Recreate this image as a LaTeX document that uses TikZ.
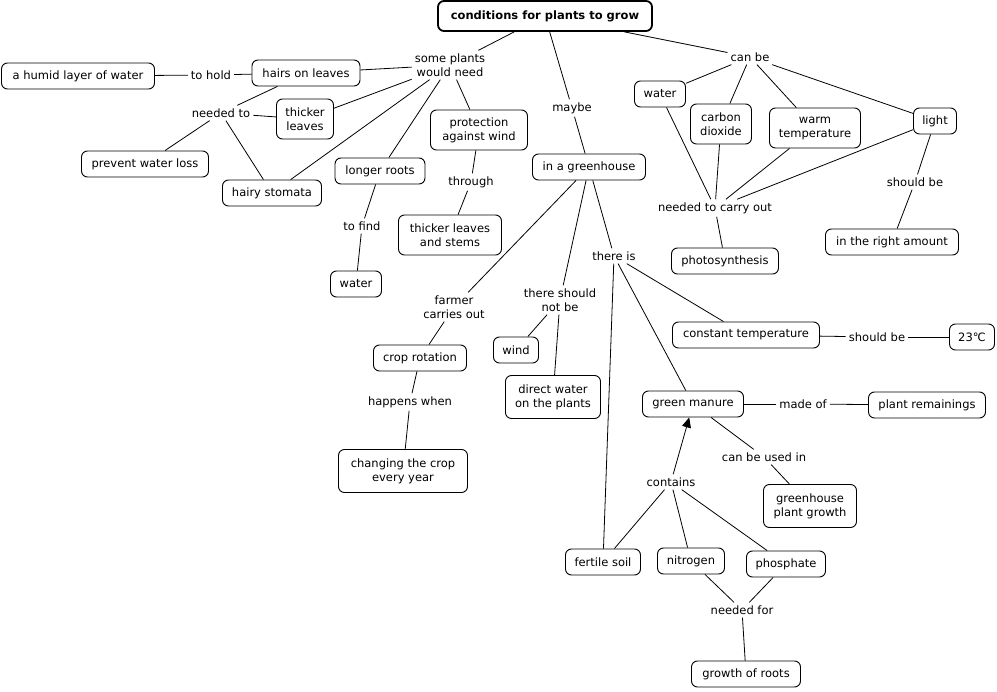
\documentclass[tikz,border=0pt]{standalone}
\usepackage{fontspec}
\setmainfont{DejaVu Sans}
\usetikzlibrary{arrows.meta}
\begin{document}
\begin{tikzpicture}[x=1pt,y=-1pt,
  box/.style={draw, rounded corners=6pt, line width=0.9pt, inner xsep=4pt, inner ysep=2pt,
    minimum height=26pt, align=center, font=\fontsize{11.5}{14}\selectfont},
  box2/.style={box, minimum height=40pt},
  titlebox/.style={box, line width=1.8pt, font=\bfseries\fontsize{11.5}{14}\selectfont, minimum height=30pt},
  lnk/.style={inner sep=3pt, align=center, font=\fontsize{11.5}{14}\selectfont},
  con/.style={line width=0.8pt},
  arr/.style={con, -{Triangle[length=10pt,width=9pt]}}]
\useasboundingbox (0,0) rectangle (997,692);
\fill[white] (0,0) rectangle (997,692);
% concepts
\node[titlebox, minimum width=214pt] (title) at (545,16) {conditions for plants to grow};
\node[box, minimum width=153pt] (humid) at (78,76) {a humid layer of water};
\node[box, minimum width=108pt] (hairs) at (306,73) {hairs on leaves};
\node[box2, minimum width=57pt] (thick) at (305,119) {thicker\\leaves};
\node[box, minimum width=127pt] (prevent) at (145,164) {prevent water loss};
\node[box, minimum width=99pt] (stomata) at (272,193) {hairy stomata};
\node[box, minimum width=90pt] (roots) at (380,171) {longer roots};
\node[box2, minimum width=97pt] (protect) at (479,130) {protection\\against wind};
\node[box2, minimum width=103pt] (stems) at (450,235) {thicker leaves\\and stems};
\node[box, minimum width=51pt] (waterL) at (356,284) {water};
\node[box, minimum width=113pt] (green) at (589,167) {in a greenhouse};
\node[box, minimum width=51pt] (waterR) at (660,94) {water};
\node[box2, minimum width=61pt] (co2) at (721,124) {carbon\\dioxide};
\node[box2, minimum width=91pt] (warm) at (815,128) {warm\\temperature};
\node[box, minimum width=43pt] (light) at (935,121) {light};
\node[box, minimum width=107pt] (photo) at (725,261) {photosynthesis};
\node[box, minimum width=133pt] (amount) at (892,242) {in the right amount};
\node[box, minimum width=93pt] (crop) at (420,358) {crop rotation};
\node[box2, minimum width=129pt, minimum height=43pt] (change) at (403,471) {changing the crop\\every year};
\node[box, minimum width=45pt] (wind) at (516,350) {wind};
\node[box2, minimum width=95pt, minimum height=43pt] (direct) at (553,397) {direct water\\on the plants};
\node[box, minimum width=147pt] (const) at (746,335) {constant temperature};
\node[box, minimum width=45pt] (deg) at (972,337) {23℃};
\node[box, minimum width=101pt] (manure) at (693,404) {green manure};
\node[box, minimum width=117pt] (remain) at (927,405) {plant remainings};
\node[box2, minimum width=93pt, minimum height=43pt] (ghgrowth) at (810,506) {greenhouse\\plant growth};
\node[box, minimum width=75pt] (soil) at (603,562) {fertile soil};
\node[box, minimum width=67pt] (nitro) at (691,561) {nitrogen};
\node[box, minimum width=79pt] (phos) at (786,564) {phosphate};
\node[box, minimum width=109pt] (growth) at (746,674) {growth of roots};
% linking phrases
\node[lnk] (need) at (450,65) {some plants\\would need};
\node[lnk] (hold) at (211,75) {to hold};
\node[lnk] (neededto) at (221,113) {needed to};
\node[lnk] (find) at (362,226) {to find};
\node[lnk] (through) at (471,182) {through};
\node[lnk] (maybe) at (572,108) {maybe};
\node[lnk] (canbe) at (750,57) {can be};
\node[lnk] (carry) at (715,208) {needed to carry out};
\node[lnk] (shouldL) at (915,182) {should be};
\node[lnk] (farmer) at (454,307) {farmer\\carries out};
\node[lnk] (notbe) at (560,300) {there should\\not be};
\node[lnk] (thereis) at (614,256) {there is};
\node[lnk] (happens) at (410,402) {happens when};
\node[lnk] (shouldT) at (877,337) {should be};
\node[lnk] (madeof) at (803,404) {made of};
\node[lnk] (usedin) at (764,457) {can be used in};
\node[lnk] (contains) at (671,482) {contains};
\node[lnk] (neededfor) at (742,610) {needed for};
% connectors
\draw[con] (title) -- (need);
\draw[con] (title) -- (maybe);
\draw[con] (title) -- (canbe);
\draw[con] (need) -- (hairs);
\draw[con] (need) -- (thick);
\draw[con] (need) -- (stomata);
\draw[con] (need) -- (roots);
\draw[con] (need) -- (protect);
\draw[con] (hairs) -- (hold);
\draw[con] (hold) -- (humid);
\draw[con] (hairs) -- (neededto);
\draw[con] (neededto) -- (thick);
\draw[con] (neededto) -- (prevent);
\draw[con] (neededto) -- (stomata);
\draw[con] (roots) -- (find);
\draw[con] (find) -- (waterL);
\draw[con] (protect) -- (through);
\draw[con] (through) -- (stems);
\draw[con] (maybe) -- (green);
\draw[con] (green) -- (farmer);
\draw[con] (green) -- (notbe);
\draw[con] (green) -- (thereis);
\draw[con] (thereis) -- (soil);
\draw[con] (thereis) -- (manure);
\draw[con] (thereis) -- (const);
\draw[con] (farmer) -- (crop);
\draw[con] (crop) -- (happens);
\draw[con] (happens) -- (change);
\draw[con] (notbe) -- (wind);
\draw[con] (notbe) -- (direct);
\draw[con] (const) -- (shouldT);
\draw[con] (shouldT) -- (deg);
\draw[con] (manure) -- (madeof);
\draw[con] (madeof) -- (remain);
\draw[con] (manure) -- (usedin);
\draw[con] (usedin) -- (ghgrowth);
\draw[arr] (contains) -- (manure);
\draw[con] (soil) -- (contains);
\draw[con] (nitro) -- (contains);
\draw[con] (phos) -- (contains);
\draw[con] (nitro) -- (neededfor);
\draw[con] (phos) -- (neededfor);
\draw[con] (neededfor) -- (growth);
\draw[con] (canbe) -- (waterR);
\draw[con] (canbe) -- (co2);
\draw[con] (canbe) -- (warm);
\draw[con] (canbe) -- (light);
\draw[con] (waterR) -- (carry);
\draw[con] (co2) -- (carry);
\draw[con] (warm) -- (carry);
\draw[con] (light) -- (carry);
\draw[con] (carry) -- (photo);
\draw[con] (light) -- (shouldL);
\draw[con] (shouldL) -- (amount);
\end{tikzpicture}
\end{document}
